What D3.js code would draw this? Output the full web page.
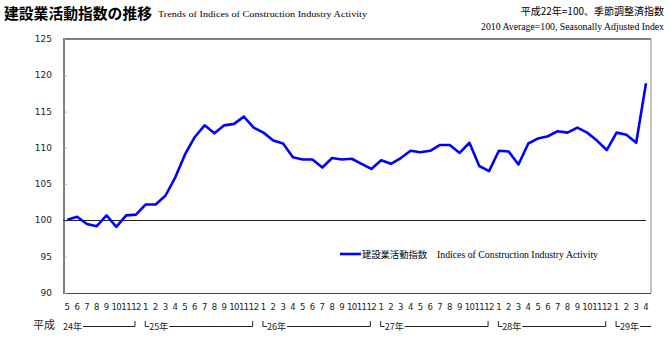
<!DOCTYPE html>
<html>
<head>
<meta charset="utf-8">
<script src="https://cdn.jsdelivr.net/npm/d3@7/dist/d3.min.js"></script>
<style>
  body { margin: 0; background: #fff; }
  svg { display: block; }
</style>
</head>
<body>
<div id="chart"></div>
<script>
//data: monthly index, H24.5 (2012/5) .. H29.4 (2017/4)
var months = [5, 6, 7, 8, 9, 10, 11, 12,
    1, 2, 3, 4, 5, 6, 7, 8, 9, 10, 11, 12,
    1, 2, 3, 4, 5, 6, 7, 8, 9, 10, 11, 12,
    1, 2, 3, 4, 5, 6, 7, 8, 9, 10, 11, 12,
    1, 2, 3, 4, 5, 6, 7, 8, 9, 10, 11, 12,
    1, 2, 3, 4];
var values = [100.1, 100.5, 99.5, 99.2, 100.7, 99.1, 100.7, 100.8,
    102.2, 102.2, 103.4, 105.9, 109.1, 111.5, 113.1, 112.0, 113.1, 113.3, 114.3, 112.8, 112.1, 111.0,
    110.6, 108.7, 108.4, 108.4, 107.3, 108.6, 108.4, 108.5, 107.8, 107.1, 108.3, 107.8,
    108.6, 109.6, 109.4, 109.6, 110.4, 110.4, 109.3, 110.7, 107.5, 106.8, 109.6, 109.5,
    107.7, 110.6, 111.3, 111.6, 112.3, 112.1, 112.8, 112.1, 111.0, 109.7, 112.1, 111.8,
    110.7, 118.9];
var yTicks = [90, 95, 100, 105, 110, 115, 120, 125];
//year brackets: label, first index, last index
var years = [
    {label: "24年", start: 0, end: 7},
    {label: "25年", start: 8, end: 19},
    {label: "26年", start: 20, end: 31},
    {label: "27年", start: 32, end: 43},
    {label: "28年", start: 44, end: 55},
    {label: "29年", start: 56, end: 59}
];

var svgWidth = 670, svgHeight = 338;
var plot = {left: 63, right: 651, top: 39, bottom: 293};

var jp = "'Noto Sans CJK JP', sans-serif";
var serif = "'Liberation Serif', 'Times New Roman', serif";
var num = "'DejaVu Sans', Verdana, sans-serif";

var svg = d3.select("#chart").append("svg")
    .attr("width", svgWidth)
    .attr("height", svgHeight);

var x = d3.scaleLinear().domain([0, values.length - 1]).range([67.3, 646]);
var y = d3.scaleLinear().domain([90, 125]).range([plot.bottom, plot.top]);

//titles
svg.append("text").attr("x", 4).attr("y", 19)
    .style("font-family", jp).style("font-size", "15px").style("font-weight", "bold")
    .attr("textLength", 148).attr("lengthAdjust", "spacingAndGlyphs")
    .text("建設業活動指数の推移");
svg.append("text").attr("x", 158).attr("y", 17)
    .style("font-family", serif).style("font-size", "9px")
    .attr("textLength", 209).attr("lengthAdjust", "spacingAndGlyphs")
    .text("Trends of Indices of Construction Industry Activity");
svg.append("text").attr("x", 664).attr("y", 15).attr("text-anchor", "end")
    .style("font-family", jp).style("font-size", "10px")
    .text("平成22年=100、季節調整済指数");
svg.append("text").attr("x", 664).attr("y", 30).attr("text-anchor", "end")
    .style("font-family", serif).style("font-size", "9.8px")
    .attr("textLength", 183).attr("lengthAdjust", "spacingAndGlyphs")
    .text("2010 Average=100, Seasonally Adjusted Index");

//frame
svg.append("line").attr("x1", plot.left).attr("x2", plot.right).attr("y1", plot.top).attr("y2", plot.top)
    .attr("stroke", "#000");
svg.append("line").attr("x1", plot.right).attr("x2", plot.right).attr("y1", plot.top).attr("y2", plot.bottom)
    .attr("stroke", "#888");
svg.append("line").attr("x1", plot.left).attr("x2", plot.right).attr("y1", plot.bottom + 0.5).attr("y2", plot.bottom + 0.5)
    .attr("stroke", "#444");

//y axis (ticks pointing inward)
var leftAxis = d3.axisRight(y).tickValues(yTicks).tickSize(3).tickFormat("");
var yg = svg.append("g").attr("transform", `translate(${plot.left + 0.5},0)`).call(leftAxis);
yg.select(".domain").attr("stroke", "#000");
yg.selectAll(".tick line").attr("stroke", "#999");
svg.selectAll(".ylab").data(yTicks).enter().append("text")
    .attr("x", 52).attr("y", d => y(d) + 3).attr("text-anchor", "end")
    .style("font-family", num).style("font-size", "9px").attr("fill", "#222")
    .text(d => d);

//100 baseline
svg.append("line").attr("x1", plot.left).attr("x2", x(values.length - 1))
    .attr("y1", Math.round(y(100)) + 0.5).attr("y2", Math.round(y(100)) + 0.5)
    .attr("stroke", "#222");

//data line
var line = d3.line().x((d, i) => x(i)).y(d => y(d));
svg.append("path").datum(values)
    .attr("d", line).attr("fill", "none")
    .attr("stroke", "#0000ff").attr("stroke-width", 2.6).attr("stroke-linejoin", "round");

//legend
svg.append("line").attr("x1", 340).attr("x2", 361).attr("y1", 254).attr("y2", 254)
    .attr("stroke", "#0000ff").attr("stroke-width", 2.6);
svg.append("text").attr("x", 362).attr("y", 257.5)
    .style("font-family", jp).style("font-size", "9.5px")
    .attr("textLength", 65).attr("lengthAdjust", "spacingAndGlyphs")
    .text("建設業活動指数");
svg.append("text").attr("x", 437).attr("y", 257.5)
    .style("font-family", serif).style("font-size", "9.5px")
    .attr("textLength", 161).attr("lengthAdjust", "spacingAndGlyphs")
    .text("Indices of Construction Industry Activity");

//month labels
svg.selectAll(".mlab").data(months).enter().append("text")
    .attr("x", (d, i) => x(i)).attr("y", 310).attr("text-anchor", "middle")
    .style("font-family", num).style("font-size", "8.5px").attr("fill", "#222")
    .attr("letter-spacing", d => d > 9 ? "-0.6px" : null)
    .text(d => d);

//era + year brackets
svg.append("text").attr("x", 33).attr("y", 329)
    .style("font-family", jp).style("font-size", "11px").attr("fill", "#222")
    .text("平成");
years.forEach(function(yr, k) {
    var x0 = x(yr.start) - 0.5, x1 = x(yr.end) - 1;
    var g = svg.append("g").attr("fill", "none").attr("stroke", "#222").attr("stroke-width", 1);
    var tx = k === 0 ? 63 : x0 + 4;
    if (k > 0) {
        g.append("path").attr("d", `M${x0},321V${326.5}H${x0 + 4}`);
    }
    svg.append("text").attr("x", tx).attr("y", 329.5)
        .style("font-family", jp).style("font-size", "9px").attr("fill", "#222")
        .text(yr.label);
    var lineStart = tx + 20;
    if (k < years.length - 1) {
        g.append("path").attr("d", `M${lineStart},326.5H${x1}V${321}`);
    } else {
        g.append("path").attr("d", `M${lineStart},326.5H${lineStart + 11}`);
    }
});
</script>
</body>
</html>
